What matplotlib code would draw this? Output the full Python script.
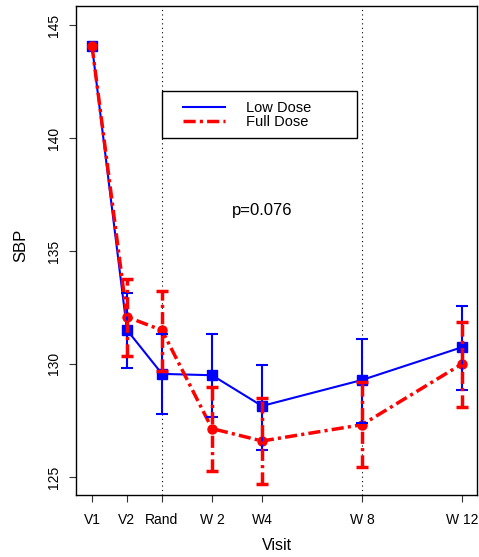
import matplotlib.pyplot as plt
from matplotlib.patches import Rectangle
import numpy as np

plt.rcParams['font.family'] = ['Liberation Sans', 'DejaVu Sans']

# visit positions (weeks from randomisation) and labels
visitas = [-2.8, -1.4, 0, 2, 4, 8, 12]
etiquetas = ["V1", "V2", "Rand", "W 2", "W4", "W 8", "W 12"]

# mean SBP with lower / upper error limits
baja = [144.07, 131.5, 129.56, 129.5, 128.14, 129.29, 130.74]
baja_inf = [144.07, 129.8, 127.79, 127.67, 126.21, 127.4, 128.85]
baja_sup = [144.07, 133.15, 131.31, 131.31, 129.97, 131.12, 132.58]

completa = [144.07, 132.08, 131.49, 127.14, 126.59, 127.31, 130.0]
completa_inf = [144.07, 130.37, 129.7, 125.28, 124.68, 125.44, 128.11]
completa_sup = [144.07, 133.76, 133.23, 128.97, 128.48, 129.2, 131.84]

x = np.array(visitas)
yb = np.array(baja)
yc = np.array(completa)

fig = plt.figure(figsize=(4.79, 5.57), dpi=100)
ax = fig.add_axes([76/479, 62/557, 401/479, 489/557])

ax.axvline(0, color="black", ls=(0, (1, 3)), lw=0.8)
ax.axvline(8, color="black", ls=(0, (1, 3)), lw=0.8)

patron = (0, (3.5, 1.2, 0.9, 1.2))

ax.plot(x, yb, color="#0000ff", lw=1.5, marker="s", ms=7.5, label="Low Dose")
ax.plot(x, yc, color="#ff0000", lw=2.5, ls=patron, marker="o", ms=6.5, label="Full Dose")

# error bars (none at V1)
eb = ax.errorbar(x[1:], yb[1:],
                 yerr=[yb[1:] - np.array(baja_inf[1:]), np.array(baja_sup[1:]) - yb[1:]],
                 fmt="none", ecolor="#0000ff", elinewidth=1.5, capsize=4, capthick=1.5)
ec = ax.errorbar(x[1:], yc[1:],
                 yerr=[yc[1:] - np.array(completa_inf[1:]), np.array(completa_sup[1:]) - yc[1:]],
                 fmt="none", ecolor="#ff0000", elinewidth=2.5, capsize=4, capthick=2.5)
ec[2][0].set_linestyle(patron)

ax.set_xlim(-3.44, 12.6)
ax.set_ylim(124.2, 145.84)
ax.set_yticks([125, 130, 135, 140, 145])
ax.set_xticks(visitas)
ax.set_xticklabels(etiquetas)
ax.tick_params(axis="both", length=5, width=0.8, labelsize=10, color="#333333")
ax.tick_params(axis="x", pad=8)
ax.tick_params(axis="y", pad=6)
for lab in ax.get_yticklabels():
    lab.set_rotation(90)
    lab.set_va("center")
for s in ax.spines.values():
    s.set_linewidth(1.0)

ax.set_ylabel("SBP", fontsize=12, va="center")
ax.yaxis.set_label_coords(-0.137, 0.51)
ax.set_xlabel("Visit", fontsize=11.5, va="center")
ax.xaxis.set_label_coords(0.5, -0.104)

ax.text(4.0, 136.8, "p=0.076", fontsize=12, ha="center", va="center")

# legend box drawn separately, entries inside it
ax.add_patch(Rectangle((0.2145, 0.7305), 0.487, 0.0955, transform=ax.transAxes,
                       facecolor="white", edgecolor="black", lw=1.0, zorder=4))
ley = ax.legend(loc="center left", bbox_to_anchor=(0.2668, 0.777),
                frameon=False, fontsize=10.5, handlelength=2.9, handletextpad=1.4,
                borderpad=0, labelspacing=0.0, borderaxespad=0)
ley.set_zorder(5)
for h in ley.get_lines():
    h.set_marker("")

fig.savefig("out.png", dpi=100)
